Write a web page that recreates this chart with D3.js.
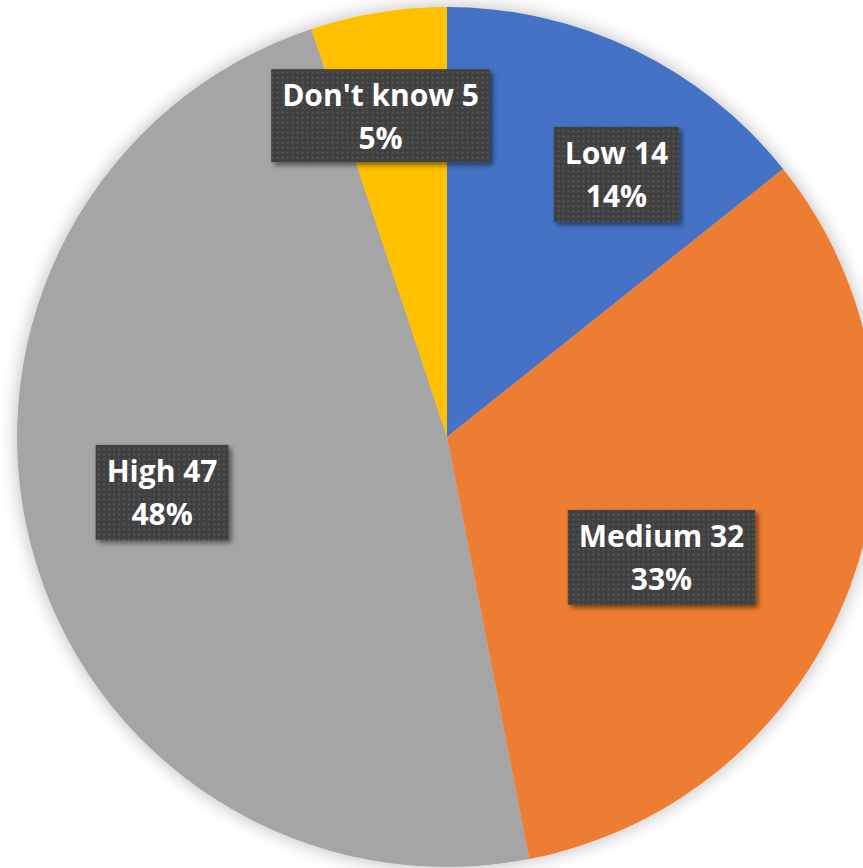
<!DOCTYPE html>
<html><head><meta charset="utf-8">
<script src="https://cdn.jsdelivr.net/npm/d3@7/dist/d3.min.js"></script>
<style>html,body{margin:0;padding:0;background:#fff;overflow:hidden}</style>
</head><body>
<script>
const categories = ["Low", "Medium", "High", "Don't know"];
const values = [14, 32, 47, 5];
const colors = ["#4472C4", "#ED7D31", "#A5A5A5", "#FFC000"];
// label placement (layout only): angle shift in degrees from slice mid-angle, radius fraction
const labelAngleShift = [7.1, 9.1, 3.7, -2.5];
const labelRadiusFrac = [0.727, 0.572, 0.675, 0.763];

const W = 863, H = 868, cx = 447, cy = 437, R = 430;
const svg = d3.select("body").append("svg").attr("width", W).attr("height", H);
const defs = svg.append("defs");

const pf = defs.append("filter").attr("id","pieShadow").attr("x","-20%").attr("y","-20%").attr("width","140%").attr("height","140%");
pf.append("feGaussianBlur").attr("in","SourceAlpha").attr("stdDeviation",9).attr("result","b");
pf.append("feFlood").attr("flood-color","#000").attr("flood-opacity",0.28);
pf.append("feComposite").attr("in2","b").attr("operator","in").attr("result","s");
const pm = pf.append("feMerge"); pm.append("feMergeNode").attr("in","s"); pm.append("feMergeNode").attr("in","SourceGraphic");

const bf = defs.append("filter").attr("id","boxShadow").attr("x","-20%").attr("y","-20%").attr("width","150%").attr("height","150%");
bf.append("feGaussianBlur").attr("in","SourceAlpha").attr("stdDeviation",2.5).attr("result","b");
bf.append("feOffset").attr("in","b").attr("dx",3).attr("dy",3).attr("result","o");
bf.append("feFlood").attr("flood-color","#000").attr("flood-opacity",0.5);
bf.append("feComposite").attr("in2","o").attr("operator","in").attr("result","s");
const bm = bf.append("feMerge"); bm.append("feMergeNode").attr("in","s"); bm.append("feMergeNode").attr("in","SourceGraphic");

const pat = defs.append("pattern").attr("id","dots").attr("patternUnits","userSpaceOnUse").attr("width",5).attr("height",5);
pat.append("rect").attr("width",5).attr("height",5).attr("fill","#404040");
pat.append("rect").attr("x",1).attr("y",1).attr("width",2).attr("height",2).attr("fill","#575757");

const data = categories.map((c,i)=>({cat:c, value:values[i], color:colors[i]}));
const total = d3.sum(values);
const pie = d3.pie().value(d=>d.value).sort(null);
const arcs = pie(data);
const arc = d3.arc().innerRadius(0).outerRadius(R);

const g = svg.append("g").attr("transform",`translate(${cx},${cy})`);
g.append("g").attr("filter","url(#pieShadow)")
  .selectAll("path").data(arcs).join("path")
  .attr("d",arc).attr("fill",d=>d.data.color);

const fs = 30, lh = 43;
const lg = g.append("g");
arcs.forEach((a,i)=>{
  const mid = (a.startAngle + a.endAngle)/2 + labelAngleShift[i]*Math.PI/180;
  const r = R*labelRadiusFrac[i];
  const x = r*Math.sin(mid), y = -r*Math.cos(mid);
  const lines = [`${a.data.cat} ${a.data.value}`, `${Math.round(a.data.value/total*100)}%`];
  const grp = lg.append("g").attr("transform",`translate(${x},${y})`);
  const box = grp.append("rect").attr("fill","url(#dots)").attr("filter","url(#boxShadow)");
  const t = grp.append("text").attr("text-anchor","middle")
    .attr("font-family","'Open Sans', Lato, sans-serif").attr("font-weight","bold")
    .attr("font-size",fs).attr("fill","#fff");
  lines.forEach((l,k)=>t.append("tspan").attr("x",0).attr("y",-10 + k*lh).text(l));
  const tw = t.node().getBBox().width;
  const bw = tw + 22, bh = i===3 ? 93 : 95;
  box.attr("x",-bw/2).attr("y",-bh/2).attr("width",bw).attr("height",bh);
});
</script>
</body></html>
